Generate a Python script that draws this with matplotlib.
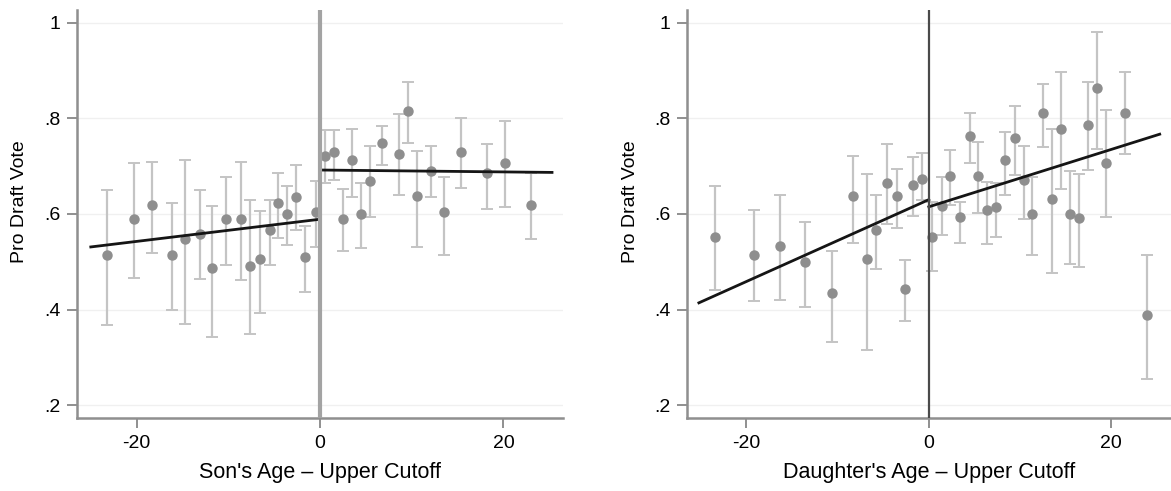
import numpy as np
import matplotlib
matplotlib.use('Agg')
import matplotlib.pyplot as plt

plt.rcParams['font.family'] = ['Liberation Sans', 'DejaVu Sans']

# --- sons panel: binned means and 95% CIs ---
son_x = [-23.2, -20.3, -18.3, -16.1, -14.7, -13.1, -11.75, -10.3, -8.6, -7.6,
         -6.6, -5.5, -4.55, -3.6, -2.6, -1.6, -0.44,
         0.5, 1.47, 2.5, 3.47, 4.46, 5.44, 6.8, 8.6, 9.6, 10.55, 12.1, 13.5,
         15.4, 18.2, 20.2, 23.0]
son_y = [0.514, 0.589, 0.619, 0.514, 0.547, 0.559, 0.486, 0.589, 0.589, 0.491,
         0.505, 0.566, 0.623, 0.599, 0.636, 0.509, 0.605,
         0.721, 0.730, 0.589, 0.712, 0.600, 0.670, 0.749, 0.726, 0.815, 0.637,
         0.690, 0.604, 0.730, 0.685, 0.707, 0.618]
son_hi = [0.650, 0.706, 0.709, 0.624, 0.714, 0.650, 0.617, 0.678, 0.709, 0.630,
          0.607, 0.629, 0.686, 0.658, 0.702, 0.575, 0.669,
          0.776, 0.776, 0.653, 0.777, 0.664, 0.743, 0.785, 0.809, 0.877, 0.732,
          0.743, 0.677, 0.801, 0.746, 0.795, 0.685]
son_lo = [0.368, 0.467, 0.518, 0.400, 0.370, 0.463, 0.343, 0.494, 0.462, 0.348,
          0.392, 0.493, 0.549, 0.536, 0.566, 0.437, 0.531,
          0.665, 0.672, 0.523, 0.635, 0.528, 0.593, 0.702, 0.640, 0.748, 0.531,
          0.635, 0.514, 0.654, 0.610, 0.615, 0.548]
son_fit_left = ([-25.0, 0.0], [0.531, 0.589])
son_fit_right = ([0.0, 25.3], [0.692, 0.687])

# --- daughters panel ---
dau_x = [-23.4, -19.2, -16.3, -13.6, -10.65, -8.3, -6.8, -5.8, -4.6, -3.5,
         -2.6, -1.7, -0.7,
         0.3, 1.46, 2.3, 3.46, 4.5, 5.4, 6.4, 7.36, 8.3, 9.4, 10.4, 11.3, 12.5,
         13.5, 14.5, 15.46, 16.5, 17.4, 18.4, 19.4, 21.55, 23.9]
dau_y = [0.552, 0.514, 0.532, 0.500, 0.435, 0.637, 0.505, 0.566, 0.665, 0.637,
         0.444, 0.660, 0.674,
         0.552, 0.617, 0.679, 0.594, 0.763, 0.679, 0.609, 0.614, 0.712, 0.760,
         0.671, 0.600, 0.811, 0.632, 0.777, 0.600, 0.591, 0.786, 0.863, 0.707,
         0.811, 0.388]
dau_hi = [0.659, 0.608, 0.639, 0.583, 0.523, 0.721, 0.683, 0.639, 0.746, 0.695,
          0.503, 0.720, 0.728,
          0.625, 0.678, 0.734, 0.625, 0.812, 0.751, 0.667, 0.665, 0.772, 0.826,
          0.743, 0.678, 0.872, 0.778, 0.898, 0.690, 0.683, 0.877, 0.980, 0.818,
          0.897, 0.514]
dau_lo = [0.440, 0.418, 0.419, 0.405, 0.333, 0.540, 0.316, 0.485, 0.580, 0.570,
          0.377, 0.595, 0.629,
          0.481, 0.556, 0.618, 0.540, 0.706, 0.602, 0.537, 0.551, 0.639, 0.681,
          0.589, 0.514, 0.741, 0.477, 0.653, 0.495, 0.489, 0.692, 0.737, 0.594,
          0.725, 0.255]
dau_fit_left = ([-25.2, 0.0], [0.414, 0.630])
dau_fit_right = ([0.0, 25.3], [0.615, 0.767])

x_ticks = [-20, 0, 20]
y_ticks = [0.2, 0.4, 0.6, 0.8, 1.0]
y_ticklabels = ['.2', '.4', '.6', '.8', '1']

axis_gray = '#8f8f8f'


def draw_panel(ax, x, y, lo, hi, fit_l, fit_r, xlabel, vline_color, vline_w):
    for t in y_ticks:
        ax.axhline(t, color='#f0f0f0', lw=1, zorder=0)
    x = np.array(x)
    y = np.array(y)
    err = [y - np.array(lo), np.array(hi) - y]
    ax.errorbar(x, y, yerr=err, fmt='none', ecolor='#c4c4c4', elinewidth=1.6,
                capsize=4, capthick=1.4, zorder=2)
    ax.plot(x, y, 'o', color='#8e8e8e', markersize=6.5, zorder=3)
    ax.plot(fit_l[0], fit_l[1], color='#151515', lw=2, zorder=4)
    ax.plot(fit_r[0], fit_r[1], color='#151515', lw=2, zorder=4)
    ax.axvline(0, color=vline_color, lw=vline_w, zorder=5)

    ax.set_xlim(-26.5, 26.5)
    ax.set_ylim(0.173, 1.027)
    ax.set_xticks(x_ticks)
    ax.set_xticklabels(['-20', '0', '20'])
    ax.set_yticks(y_ticks)
    ax.set_yticklabels(y_ticklabels)
    ax.tick_params(direction='out', length=7, width=1.4, color=axis_gray,
                   labelsize=14, pad=5)
    for s in ['top', 'right']:
        ax.spines[s].set_visible(False)
    for s in ['left', 'bottom']:
        ax.spines[s].set_color(axis_gray)
        ax.spines[s].set_linewidth(1.8)
    ax.set_xlabel(xlabel, fontsize=15.5)
    ax.set_ylabel('Pro Draft Vote', fontsize=14)
    ax.xaxis.set_label_coords(0.5, -0.108)
    ax.yaxis.set_label_coords(-0.1, 0.53)


fig = plt.figure(figsize=(11.71, 4.91), dpi=100)
ax1 = fig.add_axes([0.0658, 0.1487, 0.415, 0.831])
ax2 = fig.add_axes([0.5867, 0.1487, 0.413, 0.831])

draw_panel(ax1, son_x, son_y, son_lo, son_hi, son_fit_left, son_fit_right,
           "Son's Age \u2013 Upper Cutoff", '#a3a3a3', 3)
draw_panel(ax2, dau_x, dau_y, dau_lo, dau_hi, dau_fit_left, dau_fit_right,
           "Daughter's Age \u2013 Upper Cutoff", '#4a4a4a', 1.6)

fig.savefig('out.png', dpi=100, facecolor='white')
